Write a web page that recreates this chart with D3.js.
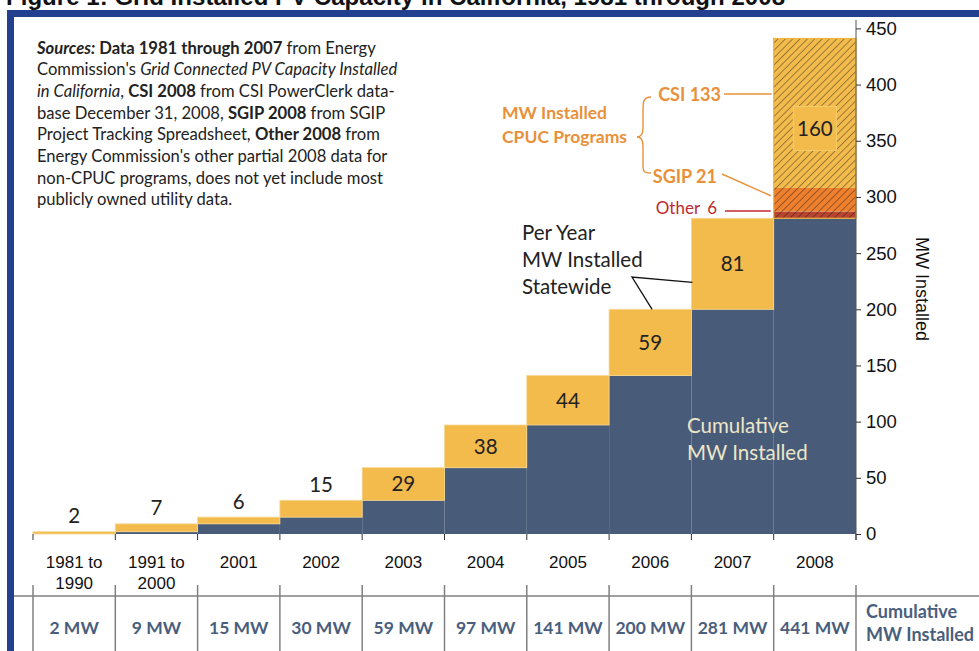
<!DOCTYPE html>
<html>
<head>
<meta charset="utf-8">
<script src="https://cdn.jsdelivr.net/npm/d3@7"></script>
<style>
  html, body { margin: 0; padding: 0; background: #fff; }
  svg { display: block; }
</style>
</head>
<body>
<svg id="chart" width="979" height="651"></svg>
<script>
// ---------------- DATA ----------------
const categories = ["1981 to 1990", "1991 to 2000", "2001", "2002", "2003", "2004", "2005", "2006", "2007", "2008"];
const perYear = [2, 7, 6, 15, 29, 38, 44, 59, 81, 160];
const programNames = ["Other", "SGIP", "CSI"];
const programValues = [6, 21, 133];
const yTicks = [0, 50, 100, 150, 200, 250, 300, 350, 400, 450];
const titleText = "Figure 1: Grid Installed PV Capacity in California, 1981 through 2008";

// ---------------- SETUP ----------------
const svg = d3.select("#chart");
const MYRIAD = "Lato, 'Open Sans', sans-serif";
const ARIAL = "'Liberation Sans', Arial, sans-serif";
const C = {
  frame: "#233f8f", blue: "#485b78", yellow: "#f2bb4b", orange: "#ee7f2d",
  red: "#b8432f", annot: "#e8913a", redText: "#c0292e", table: "#4a5e7d", grid: "#808080"
};
const progColors = { Other: C.red, SGIP: C.orange, CSI: C.yellow };

const x = d3.scaleBand().domain(categories).range([33, 856]).padding(0);
const y = d3.scaleLinear().domain([0, 450]).range([534, 28.4]);
const cum = Array.from(d3.cumsum(perYear));
const base = cum.map((c, i) => c - perYear[i]);

// defs: hatch pattern
const defs = svg.append("defs");
const pat = defs.append("pattern").attr("id", "hatch").attr("patternUnits", "userSpaceOnUse")
  .attr("width", 5.2).attr("height", 5.2).attr("patternTransform", "rotate(45)");
pat.append("line").attr("x1", 0).attr("y1", 0).attr("x2", 0).attr("y2", 5.2)
  .attr("stroke", "#1a1a1a").attr("stroke-width", 0.8);

// title (cropped at top, as in the reference)
svg.append("text").attr("x", 6).attr("y", 4.5).attr("font-family", ARIAL).attr("font-weight", "bold")
  .attr("font-size", 24).attr("fill", "#111").attr("textLength", 779).text(titleText);

// frame
svg.append("rect").attr("x", 7).attr("y", 10).attr("width", 972).attr("height", 7).attr("fill", C.frame);
svg.append("rect").attr("x", 7).attr("y", 10).attr("width", 7).attr("height", 641).attr("fill", C.frame);

// ---------------- BARS ----------------
const g = svg.append("g");
g.selectAll("rect.cum").data(categories).join("rect").attr("class", "cum")
  .attr("x", d => x(d)).attr("width", x.bandwidth())
  .attr("y", (d, i) => y(base[i])).attr("height", (d, i) => y(0) - y(base[i]))
  .attr("fill", C.blue);

const last = categories.length - 1;
g.selectAll("rect.inc").data(categories.slice(0, last)).join("rect").attr("class", "inc")
  .attr("x", d => x(d)).attr("width", x.bandwidth())
  .attr("y", (d, i) => y(cum[i])).attr("height", (d, i) => y(base[i]) - y(cum[i]))
  .attr("fill", C.yellow).attr("stroke", "#f6d68f").attr("stroke-width", 0.8);

// 2008 breakdown
const progBase = Array.from(d3.cumsum(programValues)).map((c, i) => base[last] + c - programValues[i]);
const x08 = x(categories[last]);
const segs = programNames.map((n, i) => ({ name: n, y0: progBase[i], y1: progBase[i] + programValues[i] }));
g.selectAll("rect.prog").data(segs).join("rect").attr("class", "prog")
  .attr("x", x08).attr("width", x.bandwidth())
  .attr("y", d => y(d.y1)).attr("height", d => y(d.y0) - y(d.y1))
  .attr("fill", d => progColors[d.name]);
g.selectAll("rect.hatch").data(segs).join("rect").attr("class", "hatch")
  .attr("x", x08).attr("width", x.bandwidth())
  .attr("y", d => y(d.y1)).attr("height", d => y(d.y0) - y(d.y1))
  .attr("fill", "url(#hatch)");
g.append("rect").attr("x", x08).attr("width", x.bandwidth())
  .attr("y", y(cum[last])).attr("height", y(base[last]) - y(cum[last]))
  .attr("fill", "none").attr("stroke", "#efb43f").attr("stroke-width", 1.2);

// per-year labels
categories.forEach((c, i) => {
  const cx = x(c) + x.bandwidth() / 2;
  const h = y(base[i]) - y(cum[i]);
  let cy;
  if (i === last) {
    cy = y((base[i] + cum[i]) / 2);
    g.append("rect").attr("x", cx - 21.5).attr("y", cy - 22).attr("width", 43).attr("height", 44)
      .attr("fill", C.yellow).attr("stroke", "#f7cf6e").attr("stroke-width", 1);
  } else if (h < 25) {
    cy = y(cum[i]) - 16;
  } else {
    cy = y((base[i] + cum[i]) / 2);
  }
  g.append("text").attr("x", cx).attr("y", cy).attr("dy", "0.36em").attr("text-anchor", "middle")
    .attr("font-family", MYRIAD).attr("font-size", 20.5).attr("fill", "#222").text(perYear[i]);
});

// ---------------- AXES ----------------
const yAxis = svg.append("g").attr("transform", "translate(856,0)")
  .call(d3.axisRight(y).tickValues(yTicks).tickSize(5).tickPadding(5));
yAxis.select(".domain").attr("stroke", "#555").attr("d", "M0,20V540");
yAxis.selectAll(".tick line").attr("stroke", "#333");
yAxis.selectAll(".tick text").attr("font-family", ARIAL).attr("font-size", 18.5).attr("fill", "#111");

svg.append("text").attr("transform", "translate(916,289) rotate(90)").attr("text-anchor", "middle")
  .attr("font-family", ARIAL).attr("font-size", 18).attr("fill", "#111").text("MW Installed");

// bottom ticks at band boundaries
const bounds = categories.map(c => x(c)).concat([x.range()[1]]);
svg.selectAll("line.xt").data(bounds).join("line").attr("class", "xt")
  .attr("x1", d => d).attr("x2", d => d).attr("y1", 534).attr("y2", 540)
  .attr("stroke", "#333").attr("stroke-width", 1);

// category labels
categories.forEach(c => {
  const cx = x(c) + x.bandwidth() / 2;
  const parts = c.includes(" to ") ? [c.split(" to ")[0] + " to", c.split(" to ")[1]] : [c];
  const t = svg.append("text").attr("text-anchor", "middle").attr("font-family", ARIAL)
    .attr("font-size", 17).attr("fill", "#111");
  parts.forEach((p, k) => t.append("tspan").attr("x", cx).attr("y", 567.5 + k * 21).text(p));
});

// ---------------- TABLE ----------------
svg.append("line").attr("x1", 14).attr("x2", 979).attr("y1", 596).attr("y2", 596)
  .attr("stroke", C.grid).attr("stroke-width", 1.5);
svg.selectAll("line.tv").data(bounds).join("line").attr("class", "tv")
  .attr("x1", d => d).attr("x2", d => d).attr("y1", 585).attr("y2", 651)
  .attr("stroke", C.grid).attr("stroke-width", 1.5);
categories.forEach((c, i) => {
  svg.append("text").attr("x", x(c) + x.bandwidth() / 2).attr("y", 634).attr("text-anchor", "middle")
    .attr("font-family", MYRIAD).attr("font-weight", "bold").attr("font-size", 17.5)
    .attr("fill", C.table).text(cum[i] + " MW");
});
const ct = svg.append("text").attr("font-family", MYRIAD).attr("font-weight", "bold")
  .attr("font-size", 18).attr("fill", C.table);
ct.append("tspan").attr("x", 866).attr("y", 618).text("Cumulative");
ct.append("tspan").attr("x", 866).attr("y", 641).text("MW Installed");

// ---------------- ANNOTATIONS ----------------
// sources
const srcLines = [
  [["Sources:", "bi"], [" Data 1981 through 2007", "b"], [" from Energy", ""]],
  [["Commission's ", ""], ["Grid Connected PV Capacity Installed", "i"]],
  [["in California", "i"], [", ", ""], ["CSI 2008", "b"], [" from CSI PowerClerk data-", ""]],
  [["base December 31, 2008, ", ""], ["SGIP 2008", "b"], [" from SGIP", ""]],
  [["Project Tracking Spreadsheet, ", ""], ["Other 2008", "b"], [" from", ""]],
  [["Energy Commission's other partial 2008 data for", ""]],
  [["non-CPUC programs, does not yet include most", ""]],
  [["publicly owned utility data.", ""]]
];
const src = svg.append("text").attr("font-family", MYRIAD).attr("font-size", 16.6).attr("fill", "#222")
  .attr("xml:space", "preserve");
srcLines.forEach((line, li) => {
  line.forEach(([txt, st], k) => {
    const ts = src.append("tspan").text(txt);
    if (k === 0) ts.attr("x", 37).attr("y", 53.5 + li * 21.7);
    if (st.includes("b")) ts.attr("font-weight", "bold");
    if (st.includes("i")) ts.attr("font-style", "italic");
  });
});

// CPUC programs
const cp = svg.append("text").attr("font-family", MYRIAD).attr("font-weight", "bold")
  .attr("font-size", 17.5).attr("fill", C.annot);
cp.append("tspan").attr("x", 502).attr("y", 119).text("MW Installed");
cp.append("tspan").attr("x", 502).attr("y", 143).text("CPUC Programs");
svg.append("path")
  .attr("d", "M651,97 C643,97 643,103 643,110 L643,128 C643,134 641,137 637,137 C641,137 643,140 643,146 L643,164 C643,171 643,173 651,173")
  .attr("fill", "none").attr("stroke", C.annot).attr("stroke-width", 1.4);

const segMid = d => y((d.y0 + d.y1) / 2);
// CSI
svg.append("text").attr("x", 721).attr("y", 101).attr("text-anchor", "end").attr("font-family", MYRIAD)
  .attr("font-weight", "bold").attr("font-size", 18).attr("fill", C.annot).text("CSI " + programValues[2]);
svg.append("line").attr("x1", 724).attr("x2", x08 - 2).attr("y1", 94).attr("y2", 94)
  .attr("stroke", C.annot).attr("stroke-width", 1.4);
// SGIP
svg.append("text").attr("x", 717).attr("y", 183).attr("text-anchor", "end").attr("font-family", MYRIAD)
  .attr("font-weight", "bold").attr("font-size", 18).attr("fill", C.annot).text("SGIP " + programValues[1]);
svg.append("line").attr("x1", 722).attr("y1", 174).attr("x2", x08 - 3).attr("y2", segMid(segs[1]) - 4)
  .attr("stroke", C.annot).attr("stroke-width", 1.4);
// Other
const ot = svg.append("text").attr("x", 717).attr("y", 214).attr("text-anchor", "end").attr("font-family", MYRIAD)
  .attr("font-size", 17).attr("fill", C.redText);
ot.append("tspan").text("Other");
ot.append("tspan").attr("dx", 7).text(programValues[0]);
svg.append("line").attr("x1", 725).attr("x2", x08 - 3).attr("y1", 211).attr("y2", 211)
  .attr("stroke", C.redText).attr("stroke-width", 1.4);

// Per Year MW Installed Statewide
const py = svg.append("text").attr("font-family", MYRIAD).attr("font-size", 20.5).attr("fill", "#222");
["Per Year", "MW Installed", "Statewide"].forEach((s, k) =>
  py.append("tspan").attr("x", 522).attr("y", 240 + k * 27).text(s));
const i06 = categories.indexOf("2006"), i07 = categories.indexOf("2007");
svg.append("path")
  .attr("d", `M${x(categories[i07]) + 1},${y(224)} L632,277 L${x(categories[i06]) + 43},${y(cum[i06])}`)
  .attr("fill", "none").attr("stroke", "#111").attr("stroke-width", 1.3);

// Cumulative MW Installed (inside)
const cm = svg.append("text").attr("font-family", MYRIAD).attr("font-size", 20.5).attr("fill", "#ece7c9");
cm.append("tspan").attr("x", 687).attr("y", 433).text("Cumulative");
cm.append("tspan").attr("x", 687).attr("y", 460).text("MW Installed");
</script>
</body>
</html>
